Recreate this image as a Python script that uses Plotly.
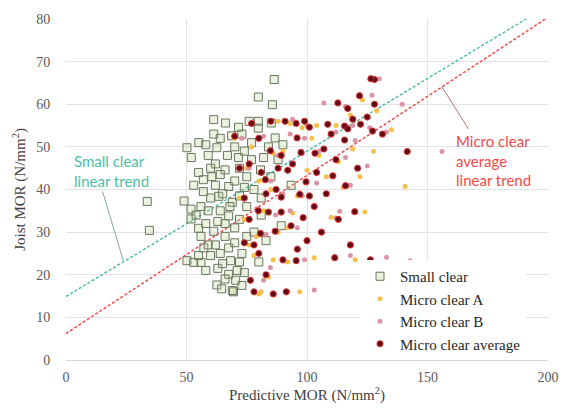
import plotly.graph_objects as go

# Small clear specimens: predictive MOR (x) vs joist MOR (y), N/mm²
sc_x = [33.7, 34.6, 49, 51.9, 51.9, 55, 56, 57.2, 50.2, 53, 56, 58, 62.6, 64.6, 69.5,
        59, 52, 62, 57, 60.5, 66, 67.5, 63.4, 59, 64, 67.5, 61.3, 66, 67.5, 68.3,
        67.5, 66, 70.4, 93.4, 89.3, 80.7, 71.6, 86.4, 79.8, 85.6, 61.3, 66.2, 71.6,
        79.8, 85.2, 61.3, 68.7, 79.8, 86.8, 50.2, 55.1, 62.6, 58, 64, 70, 74, 77,
        84, 90, 72, 75, 70, 62, 65, 69, 72, 75, 78, 81, 60, 56, 54, 58, 63, 70, 72,
        75, 78, 62, 64, 60, 70, 73, 63, 65, 71, 73, 69, 55, 59, 66, 68, 74, 77, 82,
        88, 60, 64, 57, 53, 55, 67, 73, 76, 81, 83, 85, 72, 74, 80]
sc_y = [37.2, 30.4, 37.3, 35.4, 33.1, 30.9, 29, 26.3, 23.3, 22.9, 22.9, 21, 17.6, 16.7, 16,
        48, 47.5, 46, 42.3, 43, 44.6, 40.7, 38.4, 35, 35, 33.8, 30.2, 29, 26.3, 23.3,
        20.1, 19, 18.7, 41, 31.5, 44.6, 47.5, 65.8, 61.7, 59.9, 56.4, 55.6, 54.6,
        56, 55.6, 53, 52.6, 54.4, 52.1, 49.8, 51, 49.8, 50.5, 52, 50, 49, 51,
        50, 50.5, 45, 43, 42, 41, 39, 37, 38.5, 36, 40, 38, 38, 36, 34, 32, 32.5, 31, 33,
        29, 30, 27, 25, 24.5, 27.5, 25, 21.5, 22.6, 21, 17.5, 16.3, 24.5, 27, 32, 36, 40.5, 47, 47.5,
        47, 45, 43.5, 39.5, 41, 44, 48, 53, 56, 34, 28, 43, 23, 20.5, 23]

# Micro clear A specimens
ma_x = [70, 75, 72, 74, 76, 78, 81, 80, 84, 86, 92, 88, 92, 94, 96, 85, 80, 86, 90, 93,
        98, 104, 112, 118, 123, 129, 135, 127.6, 122, 124, 140.7, 113, 108, 115, 119,
        105, 100, 110, 103, 120, 97, 102, 88, 77, 82, 79]
ma_y = [52, 45, 38, 33, 27, 24.5, 16, 15.5, 19.5, 23.5, 23, 30, 31, 34.5, 38.5, 40, 42, 48.5, 49, 55.5,
        54.5, 55, 55, 57.5, 61, 58.5, 54, 49, 43, 34.7, 40.7, 46.5, 43, 40.5, 49.5,
        48, 44.5, 33.5, 24, 23.5, 16, 52, 56, 50, 35, 29]

# Micro clear B specimens
mb_x = [156, 133, 142.8, 139.5, 107, 127, 103, 113.6, 112, 84.8, 82, 99, 118, 92, 98, 104,
        125, 118, 116, 120, 133, 126, 119, 112, 100, 94, 98, 105, 88, 85, 90, 93, 87, 96,
        83, 79, 76, 73, 82, 93, 130, 116, 99]
mb_y = [48.9, 24.1, 23.3, 60, 60.3, 62.1, 16.4, 34.9, 33.3, 21.7, 18.7, 23.5, 24.5, 16, 38.5, 41.5,
        45.5, 41, 47.5, 51.5, 53.5, 54.5, 55, 53.5, 55, 56.5, 48.5, 49, 48, 42, 39, 35, 34, 31,
        29.5, 35.5, 45, 52, 52.5, 53, 66, 59.5, 52]

# Micro clear average (mean of A and B per joist)
mavg_x = [128, 126.5, 121.8, 112.8, 116.9, 128, 90.9, 95.5, 101, 108.6, 115.6, 116.9, 122.2,
          127.2, 131.3, 110, 95.9, 115.6, 84.8, 89.3, 97.5, 103.3, 141.6, 112, 121, 110.7,
          116, 99.6, 82.7, 87.2, 97, 83, 89.3, 79.8, 84, 89.3, 98.4, 119.8, 93.4, 80.7, 86.8,
          90, 95.5, 111.5, 126.3, 76.5, 86, 91.4, 72, 74, 76, 78, 80, 74, 70, 80, 77, 85, 76,
          81, 88, 92, 103, 106, 100, 96, 104, 107, 94, 99, 119, 125, 83, 78, 101, 108, 113, 118]
mavg_y = [65.8, 66, 62, 60.3, 59, 60, 56, 55.5, 54.6, 55.3, 54.9, 54.2, 55.3,
          53.7, 53, 53, 52.1, 51.6, 49.1, 48, 48.7, 48.5, 48.9, 47, 45, 43.2,
          40.9, 41.8, 42.3, 40, 38.9, 39, 38.2, 35, 34.7, 34.7, 33.4, 34.8, 31.5, 29.7, 30.2,
          23.5, 23.3, 24, 23.5, 18.7, 15.5, 16, 45, 38, 33, 27, 25, 27.5, 52.5, 52, 55.5, 56, 46,
          44, 45, 44.5, 36, 30, 28, 26, 44, 49.5, 46, 56, 56.5, 57, 20, 16, 38.5, 39, 33, 27]

# Linear trend lines (intercept, slope)
sc_trend = (14.9, 0.341)
avg_trend = (6.2, 0.371)
trend_x = [0, 200]

serif = "Liberation Serif"
teal = "#4DBFA6"
red = "#F24B4B"


def trend(params, x):
    return params[0] + params[1] * x


fig = go.Figure()

fig.add_trace(go.Scatter(
    x=trend_x, y=[trend(sc_trend, v) for v in trend_x],
    mode="lines", line=dict(color=teal, width=1.5, dash="3px,2px"),
    showlegend=False, hoverinfo="skip"))
fig.add_trace(go.Scatter(
    x=trend_x, y=[trend(avg_trend, v) for v in trend_x],
    mode="lines", line=dict(color=red, width=1.5, dash="3px,2px"),
    showlegend=False, hoverinfo="skip"))

fig.add_trace(go.Scatter(
    x=sc_x, y=sc_y, mode="markers", name="Small clear",
    marker=dict(symbol="square", size=8, color="rgba(170,205,130,0.25)",
                line=dict(color="#6A765E", width=1))))
fig.add_trace(go.Scatter(
    x=ma_x, y=ma_y, mode="markers", name="Micro clear A",
    marker=dict(symbol="circle", size=5, color="#F7C04A", line=dict(width=0))))
fig.add_trace(go.Scatter(
    x=mb_x, y=mb_y, mode="markers", name="Micro clear B",
    marker=dict(symbol="circle", size=5, color="#D995A6", line=dict(width=0))))
fig.add_trace(go.Scatter(
    x=mavg_x, y=mavg_y, mode="markers", name="Micro clear average",
    marker=dict(symbol="circle", size=6, color="#5E0B16",
                line=dict(color="rgba(210,40,40,0.8)", width=1.2))))

# leader lines from the callout texts to the trend lines
fig.add_shape(type="line", xref="x", yref="y", x0=15.2, y0=39.5,
              x1=23.9, y1=trend(sc_trend, 23.9), line=dict(color="#7FA8A0", width=1))
fig.add_shape(type="line", xref="x", yref="y", x0=156, y0=trend(avg_trend, 156),
              x1=167, y1=54.2, line=dict(color="#C07070", width=1))

fig.add_annotation(x=2.5, y=44.3, xref="x", yref="y", xanchor="left", yanchor="middle",
                   text="Small clear<br>linear trend", showarrow=False, align="left",
                   font=dict(family="Lato", size=15, color=teal))
fig.add_annotation(x=161, y=46.9, xref="x", yref="y", xanchor="left", yanchor="middle",
                   text="Micro clear<br>average<br>linear trend", showarrow=False, align="left",
                   font=dict(family="Lato", size=15, color=red))

fig.update_layout(
    width=571, height=411,
    margin=dict(l=66, r=19, t=15, b=46),
    paper_bgcolor="white", plot_bgcolor="white",
    font=dict(family=serif, color="#404040"),
    legend=dict(x=0.61, y=0.0, xanchor="left", yanchor="bottom",
                bgcolor="white", font=dict(family=serif, size=15, color="#262626"),
                itemwidth=30, tracegroupgap=0),
    xaxis=dict(range=[0, 200], tickvals=[0, 50, 100, 150, 200],
               showgrid=True, gridcolor="#E3E3E3", zeroline=False,
               showline=True, linecolor="#D9D9D9",
               ticks="outside", ticklen=4, tickcolor="rgba(0,0,0,0)",
               tickfont=dict(family=serif, size=14, color="#595959"),
               title=dict(text="Predictive MOR (N/mm<sup>2</sup>)",
                          font=dict(family=serif, size=15, color="#404040"), standoff=4)),
    yaxis=dict(range=[0, 80], tickvals=list(range(0, 81, 10)),
               showgrid=True, gridcolor="#E3E3E3", zeroline=False,
               ticks="outside", ticklen=12, tickcolor="rgba(0,0,0,0)",
               tickfont=dict(family=serif, size=14, color="#595959"),
               title=dict(text="Joist MOR (N/mm<sup>2</sup>)",
                          font=dict(family=serif, size=15, color="#404040"), standoff=6)),
)

fig.write_html("out.html")
